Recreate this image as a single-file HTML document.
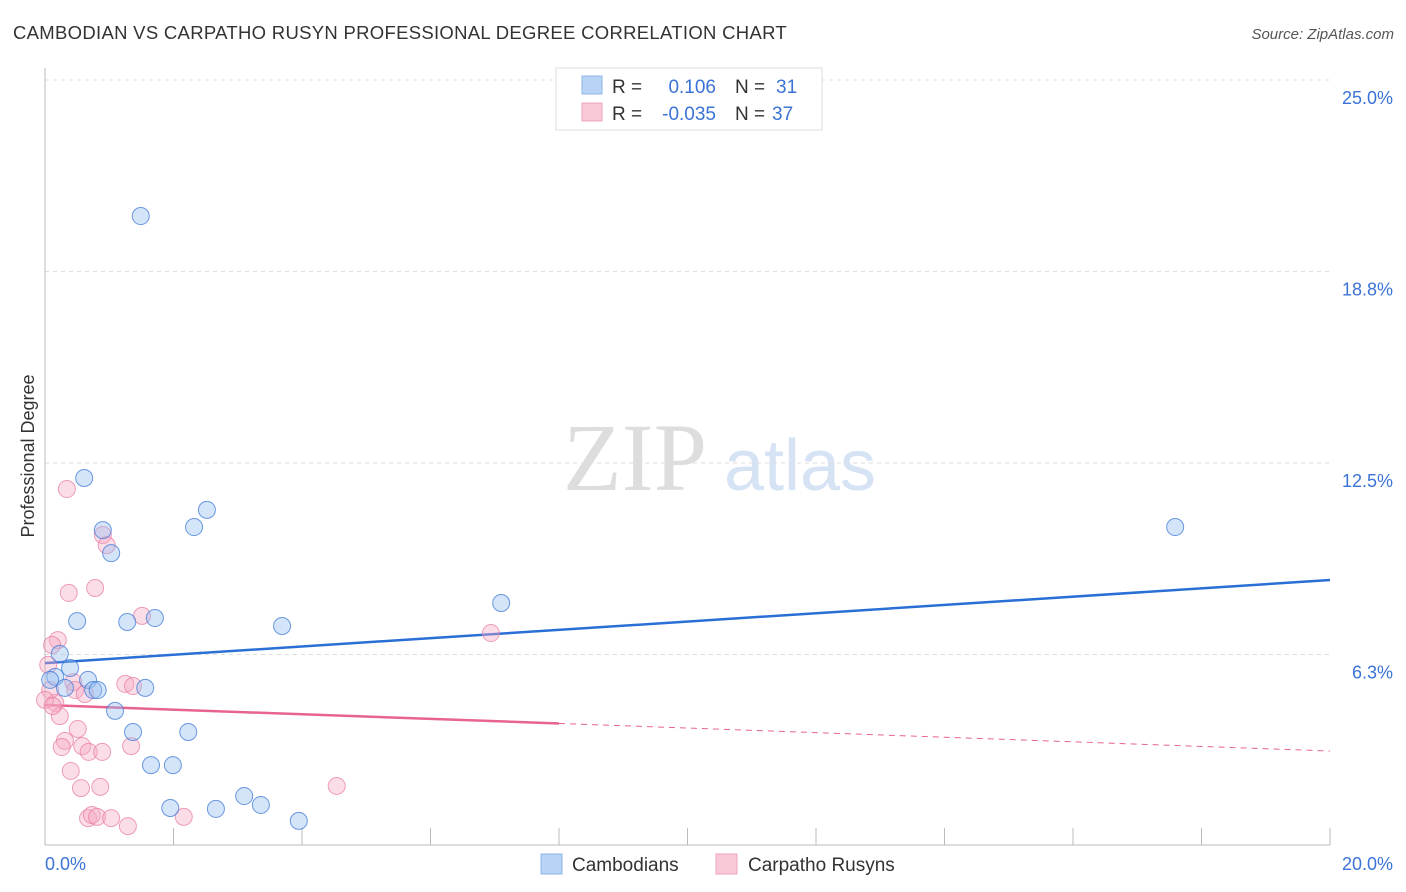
<!DOCTYPE html>
<html><head><meta charset="utf-8"><style>
body{margin:0;background:#fff;font-family:"Liberation Sans",sans-serif;}
#c{position:relative;width:1406px;height:892px;overflow:hidden;}
</style></head><body>
<div id="c">
<svg id="svg" width="1406" height="892" xmlns="http://www.w3.org/2000/svg">
<text x="13" y="39" font-size="18.5" letter-spacing="0.3" fill="#333">CAMBODIAN VS CARPATHO RUSYN PROFESSIONAL DEGREE CORRELATION CHART</text>
<text x="1394" y="39" font-size="15" font-style="italic" fill="#555" text-anchor="end">Source: ZipAtlas.com</text>
<text x="34" y="456" font-size="18" fill="#333" text-anchor="middle" transform="rotate(-90 34 456)">Professional Degree</text>
<g>
<text x="635" y="490" font-size="96" font-family="Liberation Serif,serif" fill="#ddd" text-anchor="middle">ZIP</text>
<text x="800" y="490" font-size="72" fill="#d5e3f5" text-anchor="middle">atlas</text>
</g>
<g id="grid"></g><g id="axes"></g><g id="trend"></g><g id="pts"></g>
<g>
<rect x="556" y="68" width="266" height="62" fill="#fff" stroke="#ddd"/>
<rect x="582" y="76" width="20" height="18" fill="#b8d3f5" stroke="#8fb6e8"/>
<rect x="582" y="103" width="20" height="18" fill="#f9c9d8" stroke="#eea5bd"/>
<text x="612" y="93" font-size="19" fill="#333">R = </text><text x="716" y="93" font-size="19" fill="#3b73d6" text-anchor="end">0.106</text>
<text x="735" y="93" font-size="19" fill="#333">N = </text><text x="776" y="93" font-size="19" fill="#3b73d6">31</text>
<text x="612" y="120" font-size="19" fill="#333">R = </text><text x="716" y="120" font-size="19" fill="#3b73d6" text-anchor="end">-0.035</text>
<text x="735" y="120" font-size="19" fill="#333">N = </text><text x="772" y="120" font-size="19" fill="#3b73d6">37</text>
</g>
<g>
<rect x="541" y="854" width="21" height="20" fill="#b8d3f5" stroke="#8fb6e8"/>
<text x="572" y="871" font-size="19" fill="#333">Cambodians</text>
<rect x="716" y="854" width="21" height="20" fill="#f9c9d8" stroke="#eea5bd"/>
<text x="748" y="871" font-size="19" fill="#333">Carpatho Rusyns</text>
</g>
</svg>
</div>
<script>
const yTicks=[25,18.75,12.5,6.25];
const yTickLabels=["25.0%","18.8%","12.5%","6.3%"];
const xTickLabels=["0.0%","20.0%"];
const blueX=[1.49,0.61,0.90,1.03,2.32,2.52,0.50,1.28,1.71,3.69,7.10,17.59,0.23,0.39,0.16,0.08,0.67,0.31,0.75,0.82,1.56,1.09,1.37,2.23,1.65,1.99,1.95,2.66,3.10,3.36,3.95];
const blueY=[20.56,12.01,10.31,9.56,10.41,10.97,7.34,7.31,7.44,7.18,7.93,10.41,6.27,5.81,5.52,5.42,5.42,5.16,5.09,5.09,5.16,4.41,3.72,3.72,2.64,2.64,1.24,1.21,1.63,1.34,0.82];
const pinkX=[0.34,0.90,0.96,0.37,0.78,1.51,6.94,0.20,0.11,0.05,0.44,0.47,0.62,1.25,1.37,0.16,0.23,0.51,0.31,0.26,0.58,0.68,0.89,1.34,0.40,0.56,0.86,4.54,0.67,0.73,0.81,1.03,1.29,2.16,0.08,0.00,0.12];
const pinkY=[11.65,10.15,9.82,8.26,8.42,7.51,6.95,6.72,6.56,5.91,5.35,5.09,4.96,5.29,5.22,4.67,4.24,3.82,3.43,3.23,3.26,3.07,3.07,3.26,2.45,1.89,1.93,1.96,0.91,1.01,0.95,0.91,0.65,0.95,5.09,4.77,4.57];
const blueTrend=[5.97,8.68];
const pinkTrend=[4.60,3.10];
const pinkSolidEnd=8;
const NS="http://www.w3.org/2000/svg";
const X=v=>45+v*64.25, Y=v=>846-v*30.64;
function mk(t,a,p){const e=document.createElementNS(NS,t);for(const k in a)e.setAttribute(k,a[k]);document.getElementById(p).appendChild(e);return e;}
yTicks.forEach((t,i)=>{
 const l=mk('line',{x1:45,x2:1330,y1:Y(t),y2:Y(t),stroke:'#ddd','stroke-dasharray':'4,4'},'grid');
 
 
 const tx=mk('text',{x:1393,y:Y(t)+24,'font-size':18,fill:'#3b73d6','text-anchor':'end'},'grid');
 tx.textContent=yTickLabels[i];
 
 
});
const ax=mk('line',{x1:45,x2:1330,y1:845,y2:845,stroke:'#bbb'},'axes');


const ay=mk('line',{x1:45,x2:45,y1:68,y2:845,stroke:'#bbb'},'axes');


for(let i=0;i<=10;i++){const t=mk('line',{x1:X(i*2),x2:X(i*2),y1:828,y2:845,stroke:'#bbb'},'axes');
 
 }
[[0,45,'start'],[20,1393,'end']].forEach((d,i)=>{const t=mk('text',{x:d[1],y:870,'font-size':18,fill:'#3b73d6','text-anchor':d[2]},'axes');t.textContent=xTickLabels[i];
 
 });
const pv=x=>pinkTrend[0]+(pinkTrend[1]-pinkTrend[0])*x/20;
let tl=mk('line',{x1:X(0),x2:X(20),y1:Y(blueTrend[0]),y2:Y(blueTrend[1]),stroke:'#2a6fd6','stroke-width':2.5},'trend');


tl=mk('line',{x1:X(0),x2:X(pinkSolidEnd),y1:Y(pv(0)),y2:Y(pv(pinkSolidEnd)),stroke:'#e8638f','stroke-width':2.5},'trend');


tl=mk('line',{x1:X(pinkSolidEnd),x2:X(20),y1:Y(pv(pinkSolidEnd)),y2:Y(pv(20)),stroke:'#e8638f','stroke-width':1,'stroke-dasharray':'6,5'},'trend');


pinkX.forEach((x,i)=>{const c=mk('circle',{cx:X(x),cy:Y(pinkY[i]),r:8.5,fill:'rgba(246,170,195,0.4)',stroke:'rgba(232,120,160,0.7)','stroke-width':1},'pts');
 
 });
blueX.forEach((x,i)=>{const c=mk('circle',{cx:X(x),cy:Y(blueY[i]),r:8.5,fill:'rgba(150,190,240,0.4)',stroke:'rgba(60,120,215,0.75)','stroke-width':1},'pts');
 
 });
</script>
</body></html>
